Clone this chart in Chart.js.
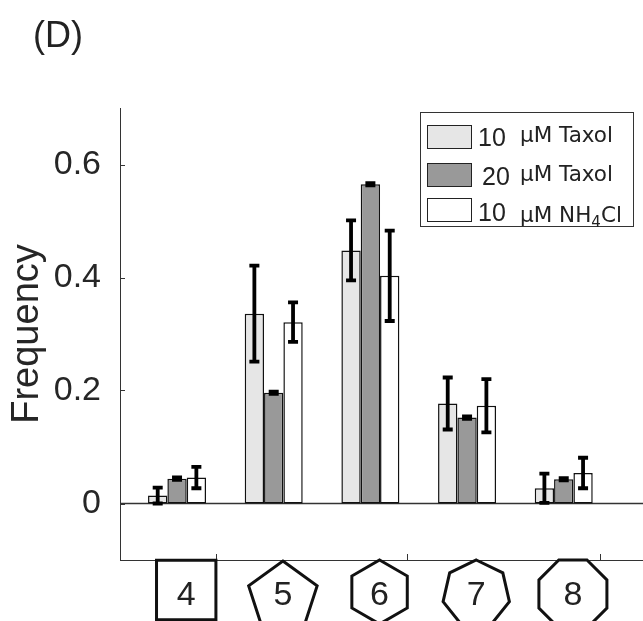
<!DOCTYPE html>
<html>
<head>
<meta charset="utf-8">
<script src="https://cdn.jsdelivr.net/npm/chart.js@4.4.1/dist/chart.umd.min.js"></script>
<style>
  body { margin: 0; background: #fff; }
  #wrap { position: relative; width: 643px; height: 621px; overflow: hidden; }
  .t { position: absolute; white-space: nowrap; color: #222; }
  .num { font: 25px/25px 'Liberation Sans', Arial, sans-serif; }
  .unit { font: 21.5px/21.5px 'DejaVu Sans', sans-serif; }
  .sw { position: absolute; left: 427px; width: 43px; height: 22px; border: 1.5px solid #222; }
  #box { position: absolute; left: 420px; top: 112px; width: 212px; height: 113px; border: 1.5px solid #333; }
</style>
</head>
<body>
<div id="wrap">
  <canvas id="chart" width="643" height="621"></canvas>
  <div class="t" style="left:33px;top:17px;font:36px/36px 'Liberation Sans',Arial,sans-serif;">(D)</div>
  <div id="box"></div>
  <div class="sw" style="top:125px;background:#e6e6e6"></div>
  <div class="sw" style="top:163px;background:#999999"></div>
  <div class="sw" style="top:198px;background:#ffffff"></div>
  <div class="t num" style="left:478px;top:125px">10</div>
  <div class="t unit" style="left:520px;top:123.5px">μM Taxol</div>
  <div class="t num" style="left:482px;top:164px">20</div>
  <div class="t unit" style="left:520px;top:163px">μM Taxol</div>
  <div class="t num" style="left:478px;top:200px">10</div>
  <div class="t unit" style="left:520px;top:203.5px">μM NH<sub style="font-size:15px;line-height:0">4</sub>Cl</div>
</div>
<script>
// number of sides of each cell shape
const sides = [4, 5, 6, 7, 8];

const taxol10 = [0.014, 0.336, 0.448, 0.177, 0.027];
const taxol10Err = [0.014, 0.085, 0.053, 0.046, 0.026];
const taxol20 = [0.044, 0.196, 0.565, 0.152, 0.043];
const taxol20Err = [0.002, 0.002, 0.002, 0.002, 0.002];
const nh4cl = [0.046, 0.321, 0.403, 0.173, 0.054];
const nh4clErr = [0.019, 0.035, 0.080, 0.047, 0.027];

const yTicks = [0, 0.2, 0.4, 0.6];
const xMarks = [4.4, 6.38, 8.38];

const font = "'Liberation Sans', Arial, sans-serif";
const pts = vals => vals.map((v, i) => ({ x: sides[i], y: v }));

// shape look under the axis
const shapeStyle = {
  4: { r: 42, dy: 30, flat: true },
  5: { r: 36, dy: 37 },
  6: { r: 32, dy: 32 },
  7: { r: 34, dy: 34 },
  8: { r: 36.8, dy: 34, flat: true }
};

const extras = {
  id: 'extras',
  beforeDatasetsDraw(chart) {
    const { ctx, chartArea: a, scales: { x, y } } = chart;
    ctx.save();
    ctx.strokeStyle = '#333';
    ctx.lineWidth = 1.5;
    const y0 = y.getPixelForValue(0);
    ctx.beginPath();
    ctx.moveTo(a.left, y0);
    ctx.lineTo(a.right, y0);
    ctx.stroke();
    // inward tick marks
    ctx.lineWidth = 1;
    ctx.beginPath();
    yTicks.forEach(v => {
      const p = Math.round(y.getPixelForValue(v)) + 0.5;
      ctx.moveTo(a.left, p);
      ctx.lineTo(a.left + 5, p);
    });
    xMarks.forEach(v => {
      const p = Math.round(x.getPixelForValue(v)) + 0.5;
      ctx.moveTo(p, a.bottom);
      ctx.lineTo(p, a.bottom - 6);
    });
    ctx.stroke();
    ctx.restore();
  },
  afterDatasetsDraw(chart) {
    const { ctx, scales: { y } } = chart;
    ctx.save();
    ctx.strokeStyle = '#000';
    ctx.lineWidth = 3.8;
    chart.data.datasets.forEach((ds, di) => {
      chart.getDatasetMeta(di).data.forEach((bar, i) => {
        const v = ds.data[i].y, e = ds.errors[i];
        const hi = y.getPixelForValue(v + e), lo = y.getPixelForValue(v - e);
        ctx.beginPath();
        ctx.moveTo(bar.x, hi); ctx.lineTo(bar.x, lo);
        ctx.moveTo(bar.x - 5, hi); ctx.lineTo(bar.x + 5, hi);
        ctx.moveTo(bar.x - 5, lo); ctx.lineTo(bar.x + 5, lo);
        ctx.stroke();
      });
    });
    ctx.restore();
  },
  afterDraw(chart) {
    const { ctx, chartArea: a, scales: { x } } = chart;
    ctx.save();
    ctx.strokeStyle = '#111';
    ctx.lineWidth = 3;
    ctx.fillStyle = '#222';
    ctx.font = '34px ' + font;
    ctx.textAlign = 'center';
    sides.forEach(n => {
      const s = shapeStyle[n];
      const cx = x.getPixelForValue(n + 0.095);
      const cy = a.bottom + s.dy;
      const rot = -Math.PI / 2 + (s.flat ? Math.PI / n : 0);
      ctx.beginPath();
      for (let k = 0; k < n; k++) {
        const ang = rot + k * 2 * Math.PI / n;
        const px = cx + s.r * Math.cos(ang), py = cy + s.r * Math.sin(ang);
        k ? ctx.lineTo(px, py) : ctx.moveTo(px, py);
      }
      ctx.closePath();
      ctx.stroke();
      ctx.fillText(String(n), cx, a.bottom + 45);
    });
    ctx.restore();
  }
};

new Chart(document.getElementById('chart'), {
  type: 'bar',
  data: {
    datasets: [
      { label: '10 μM Taxol', data: pts(taxol10), errors: taxol10Err, backgroundColor: '#e6e6e6' },
      { label: '20 μM Taxol', data: pts(taxol20), errors: taxol20Err, backgroundColor: '#999999' },
      { label: '10 μM NH4Cl', data: pts(nh4cl), errors: nh4clErr, backgroundColor: '#ffffff' }
    ].map(d => Object.assign(d, { borderColor: '#111', borderWidth: 1.5, borderSkipped: false }))
  },
  options: {
    responsive: false,
    animation: false,
    categoryPercentage: 0.6,
    barPercentage: 1.0,
    layout: { padding: { top: 108, left: 0, right: 0, bottom: 0 } },
    plugins: { legend: { display: false }, tooltip: { enabled: false } },
    scales: {
      x: {
        type: 'linear',
        min: 3.41,
        max: 8.82,
        offset: false,
        grid: { display: false, drawTicks: false },
        border: { color: '#333', width: 1 },
        afterBuildTicks: s => { s.ticks = sides.map(v => ({ value: v })); },
        ticks: { display: false },
        afterFit: s => { s.height = 61; }
      },
      y: {
        min: -0.1,
        max: 0.7,
        grid: { display: false, drawTicks: false },
        border: { color: '#333', width: 1 },
        afterBuildTicks: s => { s.ticks = yTicks.map(v => ({ value: v })); },
        ticks: {
          padding: 19,
          color: '#262626',
          font: { size: 34, family: font },
          callback: v => String(v)
        },
        title: {
          display: true,
          text: 'Frequency',
          color: '#262626',
          font: { size: 38, family: font, lineHeight: 1 },
          padding: { top: 9, bottom: 0 }
        },
        afterFit: s => { s.width = 120; }
      }
    }
  },
  plugins: [extras]
});
</script>
</body>
</html>
